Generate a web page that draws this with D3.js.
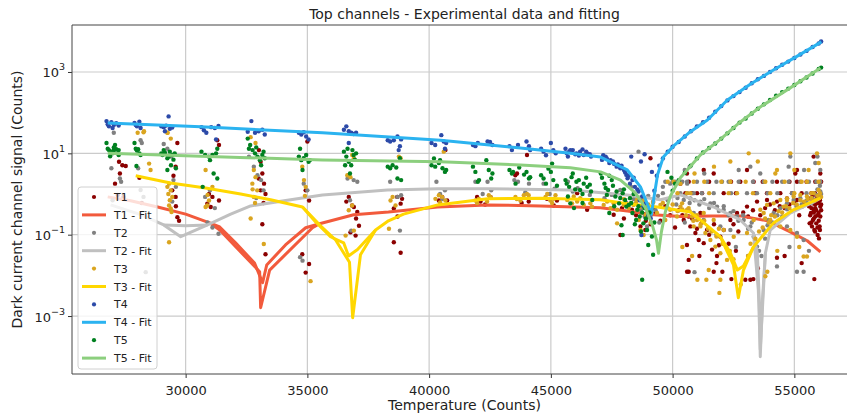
<!DOCTYPE html>
<html>
<head>
<meta charset="utf-8">
<script src="https://cdn.jsdelivr.net/npm/d3@7"></script>
<style>
  body { margin: 0; background: #fff; }
  text { font-family: "DejaVu Sans", sans-serif; fill: #222; }
</style>
</head>
<body>
<div id="chart"></div>
<script>
// Tick values for both axes
var xTicks = [30000, 35000, 40000, 45000, 50000, 55000];
var yTicks = [1e-3, 1e-1, 1e1, 1e3];
var yTickExp = ["\u22123", "\u22121", "1", "3"];

// Measured points [temperature, counts] per channel
var t1Pts = [
  [27210,0.95],[27450,0.85],[27264,6.2],[27400,5.1],[27540,4.9],[28200,0.6],[28100,2.5],[27100,1.8],[27300,3.2],
  [29590,4.7],[29450,1.23],[29660,0.27],[29730,0.22],[29590,0.85],[29660,18],[29500,2.8],[29600,0.5],
  [31300,21],[31370,16],[30960,1.0],[31100,0.85],[30890,0.58],[31030,0.48],[31370,0.69],
  [33080,6.2],[33150,3.2],[33220,1.8],[33080,1.23],[33280,1.0],[33150,0.18],[33280,0.033],[33010,12],[33000,2.4],[33200,0.6],
  [35000,19.5],[34930,1.23],[35070,0.69],[34930,0.0117],[35070,0.019],[34790,0.033],
  [36700,0.85],[36840,0.52],[36910,0.48],[37050,0.36],[36770,0.115],[36980,0.095],[37120,0.166],[36600,0.65],[37000,0.25],
  [38550,0.44],[38690,0.85],[38830,0.58],[38890,0.76],[38550,0.065],[38830,0.036],[38700,0.28],
  [40400,0.69],[40540,0.85],[40740,0.69],[40670,12],
  [41970,0.85],[42110,0.65],[42520,0.85],[42300,0.55],
  [43540,2.9],[43610,3.2],[44020,9.1],[44090,0.65],[43800,0.6],
  [44840,0.76],[45120,0.52],[45250,0.69],
  [46080,1.05],[46490,0.41],
  [47855,0.098],[47580,0.31],[47920,0.45],
  [48330,0.41],[48680,0.16],[48880,0.13],[49020,0.28],[49090,7.6],
  [48000,0.25],[48500,0.3],[48700,0.5],[48900,0.22],[49100,0.18],[49250,0.45],
  [50320,1.8],[50590,3.2],[50660,0.28],[50590,0.056],[50660,0.024],[50660,0.0123],
  [51278,3.9],[53056,3.9],[55040,3.2],[55108,3.9],[56066,3.2],[55792,8.3],[51688,3.2],
  [50320,2.0],[50662,2.0],[52782,2.0],[53330,2.0],[54287,2.0],[55108,2.0],[55860,2.0],
  [51500,2.0],[52400,2.0],[53700,2.0],[54800,2.0],[55500,2.0],[56100,2.0],
  [50525,1.05],[51004,1.05],[51209,1.05],[52098,1.05],[53877,1.05],[54424,1.05],[54903,1.05],
  [50800,1.05],[52600,1.05],[53400,1.05],[55300,1.05],[55700,1.05],
  [50457,0.23],[50730,0.16],[50936,0.11],[51073,0.074],[51278,0.062],[51414,0.13],[51620,0.043],
  [51825,0.03],[51141,0.34],[51962,0.089],[52372,0.23],[52646,0.34],[53056,0.49],[53467,0.65],
  [53877,0.71],[54287,0.65],[54698,0.78],[55108,0.71],[55313,0.49],
  [49300,0.35],[49500,0.22],[49700,0.5],[49900,0.3],[50100,0.15],[50250,0.4],[50400,0.3],[50800,0.25],
  [51000,0.14],[51200,0.2],[51500,0.1],[51700,0.18],[51900,0.055],[52100,0.13],[52300,0.06],[52500,0.18],
  [52700,0.12],[52900,0.35],[53100,0.28],[53300,0.4],[53600,0.3],[53800,0.45],[54000,0.55],[54200,0.4],
  [54400,0.5],[54600,0.45],[54800,0.55],[55000,0.6],[55200,0.3],[55400,0.6],
  [55655,0.78],[55724,0.59],[55792,0.71],[55860,0.45],[55929,0.59],[55997,0.34],[56066,0.49],
  [55683,0.34],[55765,0.23],[55900,0.19],[56038,0.16],[55820,0.13],[55956,0.098],[55724,0.16],
  [55929,0.87],[56066,0.28],[55860,0.28],[55628,0.19],[56011,0.081],[55792,0.41],
  [55600,0.5],[55650,0.3],[55700,0.45],[55750,0.6],[55800,0.25],[55850,0.55],[55900,0.4],[55950,0.3],
  [56000,0.6],[56050,0.7],[56100,0.4],[55700,0.2],[55800,0.35],[55900,0.65],[56000,0.22],[56050,0.13],
  [55950,0.15],[55850,0.12],[56100,0.55],[55750,0.9],[55850,1.05],[56000,0.95],
  [50594,0.0123],[51688,0.0123],[52987,0.0078],[53193,0.0078],[54287,0.027],[52044,0.0123],
  [52414,0.0081],[53316,0.0081],[55820,0.0081],
  [51100,0.03],[51800,0.02],[52600,0.04],[53500,0.015],[54600,0.03],[55300,0.02]
];

var t2Pts = [
  [27050,32],[26950,4.3],[27300,2.4],[27350,2.0],[28150,1.26],[28270,0.85],[28360,0.012],[27000,0.7],
  [28150,21],[28200,18],[28050,4.3],
  [29100,17],[29250,13],[29400,8.3],[29500,2.2],[29600,1.5],[29450,0.65],
  [30800,0.85],[30900,0.2],[31100,0.15],[31350,0.105],[31000,1.23],[31200,0.45],
  [32800,4.7],[32950,2.9],[33100,2.2],[33200,1.23],[32600,8.3],[32900,0.8],
  [34850,1.8],[34700,0.028],[34800,0.023],[35000,1.23],
  [36650,2.4],[36900,2.2],[37050,2.0],[36800,0.126],[36750,0.7],
  [38700,0.85],[38850,0.93],[38800,0.126],[38400,2.0],
  [40300,2.0],[40450,1.0],[40650,1.23],[40550,0.75],
  [41900,2.0],[42400,2.0],[42550,1.23],[42200,1.0],
  [43500,2.2],[43650,2.0],[44100,1.8],[43950,1.1],
  [45150,1.35],[44700,1.8],[44950,1.0],
  [45700,2.0],[46100,1.38],[45900,1.15],[46600,0.95],
  [47200,0.79],[47500,0.95],[47850,1.26],
  [48600,11],[48300,1.5],[48500,0.87],[48700,0.41],[48850,0.28],
  [48100,0.6],[48400,0.75],[48800,0.55],[49000,0.9],[49200,0.65],[49100,0.3],[48950,0.16],[49450,0.2],
  [49300,0.4],[49400,0.9],[49600,1.5],[49800,0.7],[50000,2.0],[50150,0.55],
  [49900,1.8],[50600,1.8],[50400,2.0],
  [50594,2.0],[51414,2.0],[52030,2.0],[52714,2.0],[53740,2.0],[54766,2.0],[55245,2.0],[56066,2.0],
  [49700,2.0],[50100,2.0],[51000,2.0],[51800,2.0],[52300,2.0],[53300,2.0],[54100,2.0],[54500,2.0],[55600,2.0],[55900,2.0],
  [50320,1.05],[50867,1.05],[51688,1.05],[53056,1.05],[53467,1.05],
  [49600,1.05],[50600,1.05],[51200,1.05],[52400,1.05],[53900,1.05],[54300,1.05],[54900,1.05],[55500,1.05],[55800,1.05],
  [52714,3.9],[53193,4.7],[54766,4.7],[55860,5.8],[56066,3.9],[54835,8.3],
  [50500,3.9],[51300,3.2],[53600,3.2],[55400,3.9],[55950,8.3],[50700,4.7],
  [50457,0.71],[50730,0.78],[51141,0.65],[51551,0.59],[51825,0.49],[52098,0.41],[52372,0.34],
  [52646,0.28],[52919,0.23],[53193,0.16],[53330,0.089],[53467,0.051],[53740,0.13],[53945,0.23],
  [54150,0.34],[54424,0.45],[54698,0.59],[54971,0.71],[55245,0.79],[55518,0.59],[55724,0.79],
  [55929,0.95],[56066,1.15],[54424,0.23],[54698,0.16],[55108,0.11],[55381,0.074],[54287,0.0166],
  [55108,0.0123],[55381,0.0123],[51962,0.16],[52372,0.13],[50867,0.34],[51278,0.23],
  [50200,0.8],[50500,0.9],[50700,0.6],[50900,0.7],[51100,0.55],[51300,0.75],[51500,0.45],[51700,0.6],
  [51900,0.38],[52100,0.5],[52300,0.3],[52500,0.38],[52700,0.22],[52900,0.3],[53100,0.14],[53250,0.2],
  [53400,0.07],[53550,0.04],[53650,0.03],[53800,0.08],[53900,0.17],[54100,0.2],[54300,0.3],[54500,0.28],
  [54700,0.42],[54900,0.38],[55100,0.5],[55300,0.55],[55500,0.68],[55700,0.6],[55850,0.72],[56000,0.9],
  [56100,1.0],[55950,1.3],[56050,1.6],
  [50500,0.2],[51800,0.1],[52600,0.05],[53100,0.03],[54800,0.05],[55600,0.04],[50900,0.012]
];

var t3Pts = [
  [28030,32],[28270,33],[29260,32],[32670,25],
  [28290,35],[28500,5.6],[28560,3.9],
  [29250,32],[29390,23],[29320,1.8],[29390,1.23],[29450,0.85],[29320,0.52],[29390,0.44],
  [29250,1.5],[29290,1.0],[29320,0.065],[29350,0.7],[29420,0.36],
  [30820,3.9],[30960,0.69],[30820,0.48],[31100,1.5],[30890,0.52],[30900,0.95],
  [32800,3.9],[32870,2.6],[32740,1.8],[32940,1.23],[32800,0.85],[32670,0.25],[33210,0.059],[32870,18],
  [32850,0.6],[32750,1.3],
  [34860,2.2],[34930,1.5],[35130,0.0072],[34790,4.7],[34900,0.9],
  [36640,2.9],[36770,2.6],[36840,0.52],[36570,0.095],[36910,0.126],[36910,7.6],[36840,9.1],[36700,0.4],
  [38415,0.69],[38620,0.52],[38760,8.3],[38350,0.14],[38830,7.6],[38500,0.85],
  [40260,0.76],[40535,0.85],[40670,0.69],[40600,11],[40400,0.93],[40450,0.62],
  [41900,0.69],[42040,0.76],[42450,0.93],[42520,0.85],[42380,0.65],[41970,0.6],
  [43545,0.85],[43890,0.93],[44090,0.93],[43750,0.69],[44020,1.0],[43600,0.75],
  [44780,0.85],[44980,0.69],[45190,0.93],[45120,0.76],[44850,1.0],[45050,0.6],
  [45670,0.71],[45870,0.59],[46080,0.65],[46350,0.54],[46620,0.59],[46690,0.49],[45940,0.87],[46210,0.79],
  [47170,0.54],[47450,0.45],[47720,0.41],[47990,0.54],[47720,0.19],[47310,0.65],[47580,0.59],
  [48400,0.54],[48680,0.49],[48950,0.41],[48610,0.23],[48810,0.098],[48270,0.59],[48540,0.71],[48680,0.13],
  [48000,0.75],[48200,0.45],[48500,0.62],[48800,0.7],[49000,0.55],[49200,0.62],[49100,0.2],[48900,0.3],
  [50040,2.0],[50320,1.8],[50590,1.05],[50660,0.45],[50320,0.49],[49900,0.41],[50180,0.28],
  [49500,0.54],[49360,0.34],[49700,0.23],
  [53125,10],[54835,10],[55930,10],[52372,6.3],[54287,3.9],[55587,3.9],
  [50900,3.2],[51700,4.7],[53500,6.3],[55000,3.9],[56000,5.8],
  [50867,2.0],[52372,2.0],[53808,2.0],[54219,3.2],[55518,2.0],[55997,2.0],
  [49800,2.0],[51300,2.0],[52000,2.0],[53000,2.0],[54600,2.0],[55300,2.0],
  [50730,1.05],[52646,1.05],[54013,1.05],[54698,0.71],
  [50200,1.05],[51500,1.05],[52300,1.05],[53300,1.05],[55000,1.05],[55700,1.05],
  [50388,0.59],[50594,0.41],[50799,0.28],[51004,0.23],[51141,0.16],[51346,0.11],[51551,0.074],
  [51756,0.051],[51962,0.035],[52235,0.024],[51483,0.0135],[51962,0.0078],[50867,0.16],[51278,0.34],
  [51688,0.23],[52098,0.13],[52509,0.089],[53056,0.11],[53330,0.23],[53603,0.41],[53877,0.54],
  [54150,0.59],[54424,0.71],[54698,0.78],[54971,0.87],[55245,0.95],[55518,0.87],[55792,1.05],
  [55997,1.26],[54013,0.23],[54424,0.16],[54835,0.13],[55108,0.089],[55381,0.029],[55518,0.029],
  [53808,0.0095],[53740,0.34],[54561,0.49],
  [49600,0.6],[49800,0.45],[50000,0.55],[50200,0.38],[50400,0.42],[50550,0.3],[50700,0.38],[50850,0.22],
  [51000,0.3],[51150,0.18],[51300,0.22],[51450,0.14],[51600,0.12],[51800,0.09],[51900,0.14],[52050,0.06],
  [52200,0.05],[52350,0.04],[52500,0.025],[53100,0.03],[53200,0.06],[53400,0.08],[53550,0.12],[53700,0.15],
  [53800,0.25],[53950,0.2],[54050,0.3],[54200,0.28],[54350,0.38],[54500,0.35],[54650,0.5],[54800,0.45],
  [54950,0.6],[55100,0.55],[55250,0.7],[55400,0.65],[55550,0.75],[55700,0.8],[55850,0.7],[55950,0.9],
  [56050,1.05],[56100,0.85],
  [50400,0.05],[50800,0.03],[52800,0.006],[54300,0.04],[55200,0.05],
  [51018,0.0078],[51387,0.0078],[51921,0.0037],[53890,0.0123]
];

var t4Pts = [
  [26750,62],[26800,52],[26850,46],[26950,58],[27050,50],[27150,55],[27250,48],[27000,42],
  [27900,56],[27950,50],[28000,46],[28100,60],[28150,42],
  [29000,46],[29100,44],[29200,48],[29300,81],[29350,40],[29450,43],[29150,35],
  [30650,44],[30750,37],[30850,32],[31050,44],[31200,42],[31350,47],[31250,22],
  [32550,34],[32700,62],[32850,32],[33000,35],[33150,38],[33250,29],
  [34650,32],[34750,29],[34850,33],[34950,26],[35050,22],
  [36500,38],[36600,46],[36700,35],[36800,32],[36900,30],[37000,32],[36700,18],
  [38300,21],[38400,19.5],[38550,21],[38700,26],[38850,22],[38800,15],[38750,12],
  [40100,18],[40250,16],[40500,28],[40600,19.5],[40700,18],[40650,13],
  [41800,16],[41900,15],[42000,18],[42400,19.5],[42500,19],[42600,16],
  [43300,15],[43400,12],[44000,19.5],[44100,15],[44150,12],[43650,16],
  [44600,13],[44700,11],[45000,18],[45100,12],[45200,10],[44800,9],
  [45600,13],[45750,11],[45900,12],[46050,10],[46200,11],[46350,9.1],[46500,10],[46650,8.3],[45700,8.3],
  [45650,10],[45800,12],[46000,9.5],[46150,8.8],[46300,12.5],[46450,11],[46600,9.5],
  [47100,6.9],[47250,8.3],[47400,5.8],[47550,6.3],[47700,4.7],[47850,4.3],[48000,3.9],[48100,2.95],[48150,2.45],
  [47150,9],[47300,7.5],[47450,6.8],[47600,5.5],[47750,5.3],[47900,5],[48050,3.4],
  [48250,1.8],[48450,1.5],[48600,1.15],[48750,0.87],[48300,8.3],[48700,6.3],[48720,0.098],[48350,2.2],[48900,0.59],
  [48200,2.8],[48400,2.5],[48550,1.3],[48650,0.7],[48800,0.5],[48850,9.5],[49000,0.3],[49100,0.25],[49150,3.5],[49250,1.2],
  [49350,2.8],[49450,5.0],
  [49600,7.5],[49800,11],[50000,14.5],[50250,19],[50500,26],[50750,35],[51000,46],[51250,58],
  [51500,75],[51750,105],[52000,145],[52250,200],[52500,255],[52750,320],[53000,410],[53250,530],
  [53500,660],[53750,800],[54000,1000],[54250,1230],[54500,1500],[54750,1800],[55000,2200],
  [55250,2700],[55500,3300],[55750,4100],[56000,5000],[56100,5600]
];

var t5Pts = [
  [26750,18],[26800,13],[26850,12],[26950,11],[27000,10],[27050,11.7],[27150,12.6],[27250,9.1],[27100,16],[27200,10],[26900,11],
  [26900,8.5],[27050,14],[27250,12],
  [27900,18],[27950,13],[28000,11.7],[28050,12.6],[28100,10],[28150,9.1],[27980,4.9],
  [29000,10],[29050,9.1],[29150,10.4],[29250,7.6],[29300,8.3],[29350,11],[29450,9.1],[29550,10],[29250,3.9],[29400,5.1],[29600,4.3],
  [29100,12],[29500,7],
  [30650,11],[30800,9.1],[30950,8.3],[31100,9.1],[31250,10],[31000,6.8],[31300,13],[31150,3.2],[31300,2.4],[30700,1.5],
  [32550,23],[32650,16],[32750,12],[32850,10],[32950,8.3],[33050,6.8],[33150,9.1],[33250,7.6],[33100,5.1],
  [32600,13],[32900,14],[33200,11],
  [34650,8.3],[34750,6.8],[34850,7.6],[34950,9.1],[35050,6.2],[35100,6.8],[34700,13],[34800,3.9],
  [36500,11],[36600,8.3],[36700,6.2],[36800,5.1],[36900,9.1],[37000,10],[36550,5.1],[36750,3.2],[36850,12],
  [36650,13],[36950,7],
  [38300,4.7],[38400,4.3],[38500,5.1],[38700,2.4],[38850,2.2],[38800,7.6],[38650,4.5],
  [40100,5.1],[40250,4.7],[40450,6.8],[40550,4.3],[40700,3.9],[40650,3.5],[40200,7.5],[40400,5.8],
  [41800,4.7],[41900,3.5],[42000,2.0],[42350,6.8],[42450,3.9],[42600,3.2],[42550,2.4],[42050,2.2],
  [43300,3.9],[43450,3.5],[43400,3.2],[44000,3.5],[44100,2.4],[44150,2.6],[43550,1.8],[43700,4.5],[43900,3.0],
  [44600,2.9],[44700,2.4],[44800,1.8],[45000,3.5],[45100,2.2],[45250,1.6],[45050,5.6],[44900,4.2],
  [45600,2.2],[45750,1.5],[45900,3.2],[46050,2.0],[46200,1.26],[46350,1.8],[46500,1.5],[46650,1.15],[46700,0.71],[45700,0.87],[45800,0.59],
  [45650,1.8],[45850,2.6],[46000,1.3],[46150,2.2],[46300,1.0],[46450,2.5],[46600,1.7],[45950,0.45],[46300,0.6],
  [47050,3.2],[47200,1.8],[47350,1.26],[47500,2.2],[47650,0.87],[47800,0.59],[47950,1.05],[48050,0.71],[48100,0.49],[47400,0.34],[47900,0.17],[47950,0.098],
  [47100,2.5],[47250,1.4],[47400,2.8],[47550,1.6],[47700,1.15],[47850,0.8],[48000,1.3],[47300,0.95],[47600,0.5],
  [48200,0.54],[48350,0.34],[48500,0.23],[48650,0.28],[48800,0.19],[48950,0.13],[49000,0.056],[49200,0.032],[48750,0.0078],[48250,0.79],[48550,0.41],[48900,0.25],
  [48300,0.6],[48450,0.18],[48600,0.5],[48750,0.35],[48850,0.45],[49050,0.35],[49150,0.09],[49250,0.2],[48400,1.0],[48700,0.12],
  [49790,3.5],[49950,2.5],[50100,1.8],
  [50000,1.2],[50250,2.2],[50500,3.3],[50750,5],[51000,7.5],[51250,10.5],[51500,13.5],[51750,17.5],
  [52000,23],[52250,31],[52500,42],[52750,57],[53000,72],[53250,95],[53500,125],[53750,160],
  [54000,205],[54250,260],[54500,320],[54750,390],[55000,480],[55250,590],[55500,730],[55750,920],
  [56000,1180],[56100,1280]
];

// Fitted curves; the "Alt" arrays hold the second pass where it splits off (null = gap)
var t1Fit = [
  [26800,0.85],[27740,0.68],[28850,0.48],[30000,0.32],[30985,0.195],[31400,0.155],[32050,0.063],
  [32830,0.020],[33160,0.0066],[33330,0.018],[34100,0.056],[34930,0.148],[35500,0.186],[36900,0.31],
  [38330,0.36],[40350,0.48],[42400,0.54],[44570,0.51],[47040,0.46],[48140,0.38],[49210,0.31],
  [50320,0.28],[51550,0.29],[52780,0.29],[53890,0.22],[54830,0.117],[55530,0.071],[56070,0.038]
];
var t1FitAlt = [
  [30985,0.195],[31400,0.13],[33040,0.0123],[33080,0.0016],[33450,0.0135],[35210,0.148],[35500,0.186]
];

var t2Fit = [
  [26920,0.54],[28150,0.31],[29100,0.174],[29800,0.089],[30900,0.174],[31850,0.32],[32670,0.51],
  [34720,0.79],[35620,0.95],[38290,1.26],[40350,1.35],[42400,1.35],[45800,1.26],[48140,0.95],
  [49500,0.72],[50320,0.95],[51680,0.48],[52780,0.23],[53320,0.11],[53480,0.035],[53560,0.0025],
  [53600,0.0001],[53690,0.0025],[53810,0.035],[54010,0.13],[54830,0.34],[55780,0.63],[56070,0.79]
];
var t2FitAlt = [
  [29100,0.174],[30000,0.166],[30900,0.174], null,
  [53320,0.11],[53520,0.0044],[53600,0.00015],[53730,0.0044],[53810,0.035]
];

var t3Fit = [
  [27950,2.8],[29380,1.86],[30820,1.41],[32260,1.0],[33490,0.72],[34800,0.48],[35340,0.205],
  [35950,0.089],[36490,0.063],[36690,0.030],[37060,0.043],[37800,0.13],[38330,0.22],[38950,0.32],
  [40350,0.54],[42400,0.76],[44570,0.79],[47040,0.72],[48140,0.58],[49380,0.48],[50730,0.36],
  [51140,0.23],[51960,0.089],[52370,0.036],[52660,0.0135],[52910,0.017],[53320,0.050],
  [54140,0.195],[54960,0.41],[56070,0.79]
];
var t3FitAlt = [
  [34800,0.48],[35540,0.166],[36160,0.074],[36730,0.021],[36860,0.00091],[37180,0.032],[37800,0.13], null,
  [51960,0.089],[52500,0.018],[52700,0.0028],[52910,0.0135],[53320,0.050]
];

var t4Fit = [
  [26800,56],[30620,45],[35620,32],[40470,21],[43750,13.5],[45800,10],[47040,8.1],[48140,3.9],
  [48680,1.5],[49010,0.48],[49130,0.32],[49250,0.95],[49380,2.95],[49620,8.1],[50030,15],
  [50320,21],[50730,34],[51430,66],[52250,204],[53190,500],[54140,1120],[55120,2450],[56110,5500]
];
var t4FitAlt = [];

var t5Fit = [
  [26800,10],[30620,8.5],[35620,6.9],[40470,6.2],[43750,5.2],[45800,4.4],[47040,3.5],[47860,2.2],
  [48470,1.07],[48880,0.46],[49170,0.17],[49340,0.074],[49420,0.035],[49540,0.117],[49700,0.36],
  [49910,0.89],[50320,2.5],[51140,9.1],[51960,22],[52780,59],[53600,138],[54830,407],[56070,1260]
];
var t5FitAlt = [];

var labels = ["T1", "T2", "T3", "T4", "T5"];

// Channel styles
var series = [
  { name: labels[0], pts: t1Pts, fit: t1Fit, alt: t1FitAlt, dot: "#8b0000", line: "#f25a3c" },
  { name: labels[1], pts: t2Pts, fit: t2Fit, alt: t2FitAlt, dot: "#808080", line: "#c0c0c0" },
  { name: labels[2], pts: t3Pts, fit: t3Fit, alt: t3FitAlt, dot: "#daa520", line: "#ffd700" },
  { name: labels[3], pts: t4Pts, fit: t4Fit, alt: t4FitAlt, dot: "#2c4aa8", line: "#2bb3f0" },
  { name: labels[4], pts: t5Pts, fit: t5Fit, alt: t5FitAlt, dot: "#008020", line: "#8ccf7e" }
];

var W = 847, H = 417;
// plot box (the right edge lies just outside the picture)
var pL = 72, pR = 857, pT = 25, pB = 374;

var svg = d3.select("#chart").append("svg")
    .attr("width", W)
    .attr("height", H);

var x = d3.scaleLinear()
    .domain([25333, 57573])
    .range([pL, pR]);

var y = d3.scaleLog()
    .domain([Math.pow(10, -4.425), Math.pow(10, 4.155)])
    .range([pB, pT]);

// grid
svg.append("g").selectAll("line")
    .data(xTicks).enter().append("line")
    .attr("x1", d => x(d)).attr("x2", d => x(d))
    .attr("y1", pT).attr("y2", pB)
    .attr("stroke", "#cbcbcb").attr("stroke-width", 1.2);

svg.append("g").selectAll("line")
    .data(yTicks).enter().append("line")
    .attr("x1", pL).attr("x2", pR)
    .attr("y1", d => y(d)).attr("y2", d => y(d))
    .attr("stroke", "#cbcbcb").attr("stroke-width", 1.2);

svg.append("clipPath").attr("id", "plotclip")
  .append("rect")
    .attr("x", pL).attr("y", pT)
    .attr("width", pR - pL).attr("height", pB - pT);

var plot = svg.append("g").attr("clip-path", "url(#plotclip)");

var line = d3.line()
    .defined(d => d !== null)
    .x(d => x(d[0]))
    .y(d => y(d[1]));

// draw each channel: points then its fit (same order as the legend)
series.forEach(function(s) {
    plot.append("g").selectAll("circle")
        .data(s.pts).enter().append("circle")
        .attr("cx", d => x(d[0]))
        .attr("cy", d => y(d[1]))
        .attr("r", 2.2)
        .attr("fill", s.dot);

    [s.fit, s.alt].forEach(function(arr) {
        if (!arr.length) return;
        plot.append("path")
            .datum(arr)
            .attr("d", line)
            .attr("fill", "none")
            .attr("stroke", s.line)
            .attr("stroke-width", 3)
            .attr("stroke-linejoin", "round");
    });
});

// axes
var xAxis = svg.append("g")
    .attr("transform", "translate(0," + pB + ")")
    .call(d3.axisBottom(x).tickValues(xTicks).tickSize(4).tickFormat(d3.format("d")));

var yAxis = svg.append("g")
    .attr("transform", "translate(" + pL + ",0)")
    .call(d3.axisLeft(y).tickValues(yTicks).tickSize(4).tickFormat(""));

[xAxis, yAxis].forEach(function(g) {
    g.select(".domain").remove();
    g.selectAll(".tick line").attr("stroke", "#333");
});
xAxis.selectAll(".tick text")
    .attr("font-size", 13).attr("dy", "1.05em")
    .attr("font-family", "DejaVu Sans").attr("fill", "#222");

yAxis.selectAll(".tick text").remove();
yAxis.selectAll(".tick").each(function(d, i) {
    var t = d3.select(this).append("text")
        .attr("x", -7).attr("y", 5)
        .attr("text-anchor", "end")
        .attr("font-size", 13);
    t.append("tspan").text("10");
    t.append("tspan").attr("dy", -7).attr("font-size", 9.5).text(yTickExp[i]);
});

// spines
svg.append("path")
    .attr("d", "M" + pR + "," + pT + "H" + pL + "V" + pB + "H" + pR)
    .attr("fill", "none").attr("stroke", "#444").attr("stroke-width", 1);

// titles
svg.append("text")
    .attr("x", (pL + pR) / 2).attr("y", 19)
    .attr("text-anchor", "middle").attr("font-size", 14)
    .text("Top channels - Experimental data and fitting");

svg.append("text")
    .attr("x", (pL + pR) / 2).attr("y", 410)
    .attr("text-anchor", "middle").attr("font-size", 14)
    .text("Temperature (Counts)");

svg.append("text")
    .attr("transform", "translate(22," + ((pT + pB) / 2) + ") rotate(-90)")
    .attr("text-anchor", "middle").attr("font-size", 14)
    .text("Dark current channel signal (Counts)");

// legend
var legendItems = [];
series.forEach(function(s) {
    legendItems.push({ label: s.name, color: s.dot, kind: "dot" });
    legendItems.push({ label: s.name + " - Fit", color: s.line, kind: "line" });
});

var legend = svg.append("g").attr("transform", "translate(78,187)");

legend.append("rect")
    .attr("width", 79).attr("height", 182)
    .attr("rx", 3)
    .attr("fill", "#fff").attr("fill-opacity", 0.8)
    .attr("stroke", "#d0d0d0");

var li = legend.selectAll(".legend-item")
    .data(legendItems).enter().append("g")
    .attr("class", "legend-item")
    .attr("transform", (d, i) => "translate(0," + (10 + i * 17.9) + ")");

li.filter(d => d.kind === "dot").append("circle")
    .attr("cx", 16).attr("cy", 0).attr("r", 2.1)
    .attr("fill", d => d.color);

li.filter(d => d.kind === "line").append("line")
    .attr("x1", 4).attr("x2", 28).attr("y1", 0).attr("y2", 0)
    .attr("stroke", d => d.color).attr("stroke-width", 3);

li.append("text")
    .attr("x", 36).attr("y", 4)
    .attr("font-size", 11)
    .text(d => d.label);
</script>
</body>
</html>
